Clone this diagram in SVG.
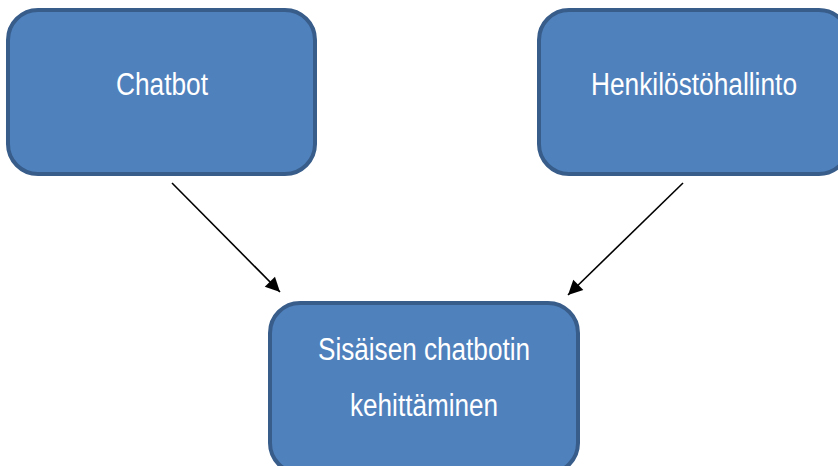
<svg xmlns="http://www.w3.org/2000/svg" width="838" height="466" viewBox="0 0 838 466">
<defs>
<style>
.box{fill:#4f81bd;stroke:#385d8a;stroke-width:4}
.lbl{fill:#ffffff;font-family:"Liberation Sans",Arial,sans-serif;font-size:31px}
.conn{stroke:#000;stroke-width:1.6;fill:none;marker-end:url(#ah)}
</style>
<marker id="ah" viewBox="0 0 10 10" refX="10" refY="5" markerWidth="10" markerHeight="9" markerUnits="userSpaceOnUse" orient="auto" style="overflow:visible">
<path d="M0,0 L10,5 L0,10 Z" fill="#000" transform="scale(1.6)" transform-origin="10 5"/>
</marker>
</defs>
<rect width="838" height="466" fill="#ffffff"/>
<g id="node-chatbot">
<rect class="box" x="8" y="10" width="307" height="164" rx="30"/>
<text class="lbl" x="116" y="95" textLength="92" lengthAdjust="spacingAndGlyphs">Chatbot</text>
</g>
<g id="node-henkilosto">
<rect class="box" x="539" y="10" width="310" height="164" rx="30"/>
<text class="lbl" x="591" y="95" textLength="206" lengthAdjust="spacingAndGlyphs">Henkilöstöhallinto</text>
</g>
<g id="node-sisainen">
<rect class="box" x="270" y="303" width="308" height="170" rx="30"/>
<text class="lbl" x="318" y="360" textLength="212" lengthAdjust="spacingAndGlyphs">Sisäisen chatbotin</text>
<text class="lbl" x="350" y="416" textLength="148" lengthAdjust="spacingAndGlyphs">kehittäminen</text>
</g>
<g id="connectors">
<line class="conn" x1="172" y1="183" x2="280" y2="292"/>
<line class="conn" x1="683" y1="183" x2="568" y2="295"/>
</g>
</svg>
